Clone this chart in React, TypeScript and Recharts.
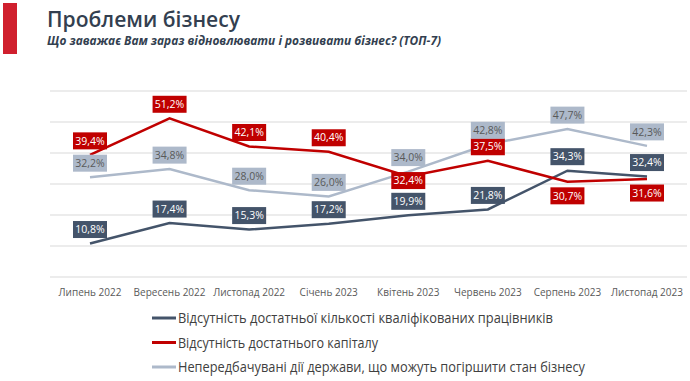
import React from 'react';
import { LineChart, Line, XAxis, YAxis, CartesianGrid, Legend } from 'recharts';

const months = [
  'Липень 2022',
  'Вересень 2022',
  'Листопад 2022',
  'Січень 2023',
  'Квітень 2023',
  'Червень 2023',
  'Серпень 2023',
  'Листопад 2023',
];
const workers = [10.8, 17.4, 15.3, 17.2, 19.9, 21.8, 34.3, 32.4];
const capital = [39.4, 51.2, 42.1, 40.4, 32.4, 37.5, 30.7, 31.6];
const stateActs = [32.2, 34.8, 28.0, 26.0, 34.0, 42.8, 47.7, 42.3];
const yTicks = [0, 10, 20, 30, 40, 50, 60];

const names = {
  workers: 'Відсутність достатньої кількості кваліфікованих працівників',
  capital: 'Відсутність достатнього капіталу',
  stateActs: 'Непередбачувані дії держави, що можуть погіршити стан бізнесу',
};

const data = months.map((m, i) => ({
  month: m,
  workers: workers[i],
  capital: capital[i],
  stateActs: stateActs[i],
}));

const FONT = '"Open Sans", "Noto Sans", sans-serif';

// label boxes sit above the point unless moved here
const labelShift: Record<string, Record<number, number>> = {
  workers: {},
  capital: { 4: 4, 6: 14, 7: 14 },
  stateActs: {},
};

const fmt = (v: number) => v.toFixed(1).replace('.', ',') + '%';

function BoxLabel(props: any) {
  const { x, y, value, index, boxFill, textFill, shift } = props;
  if (x == null || y == null) return null;
  const cy = y + (shift[index] ?? -14);
  return (
    <g>
      <rect x={x - 17} y={cy - 8.5} width={34} height={17} fill={boxFill} />
      <text
        x={x}
        y={cy}
        dy="0.35em"
        textAnchor="middle"
        fontSize={10.5}
        fontFamily={FONT}
        fill={textFill}
      >
        {fmt(value)}
      </text>
    </g>
  );
}

const legendRows = [
  { key: 'workers', color: '#44546A', width: 375 },
  { key: 'capital', color: '#C00000', width: 200 },
  { key: 'stateActs', color: '#ADB9CA', width: 407 },
];

function LegendBox() {
  return (
    <svg width={530} height={75}>
      {legendRows.map((r, i) => (
        <g key={r.key} transform={`translate(0, ${12 + i * 24.5})`}>
          <line x1={2} x2={26} y1={0} y2={0} stroke={r.color} strokeWidth={3} />
          <text
            x={28}
            y={0}
            dy="0.35em"
            fontSize={15}
            fontFamily={FONT}
            fill="#404040"
            textLength={r.width}
            lengthAdjust="spacingAndGlyphs"
          >
            {names[r.key as keyof typeof names]}
          </text>
        </g>
      ))}
    </svg>
  );
}

export default function App() {
  return (
    <div style={{ position: 'absolute', left: 0, top: 0, width: 690, height: 381, background: '#fff' }}>
      <svg width={690} height={60} style={{ position: 'absolute', left: 0, top: 0 }}>
        <rect x={3} y={3} width={14} height={51} fill="#D0202E" />
        <text
          x={47}
          y={27}
          fontSize={21}
          fontWeight={600}
          fontFamily={FONT}
          fill="#333F50"
          textLength={193}
          lengthAdjust="spacingAndGlyphs"
        >
          Проблеми бізнесу
        </text>
        <text
          x={47}
          y={45}
          fontSize={12.5}
          fontWeight="bold"
          fontStyle="italic"
          fontFamily={FONT}
          fill="#333F50"
          textLength={394}
          lengthAdjust="spacingAndGlyphs"
        >
          Що заважає Вам зараз відновлювати і розвивати бізнес? (ТОП-7)
        </text>
      </svg>
      <LineChart
        width={690}
        height={381}
        data={data}
        margin={{ top: 91, right: 3, bottom: 74, left: 50 }}
        style={{ position: 'absolute', left: 0, top: 0 }}
      >
        <CartesianGrid vertical={false} stroke="#D9D9D9" />
        <XAxis
          dataKey="month"
          axisLine={false}
          tickLine={false}
          height={30}
          tickMargin={6}
          interval={0}
          padding={{ left: 40, right: 40 }}
          tick={{ fontSize: 10, fill: '#595959', fontFamily: FONT }}
        />
        <YAxis hide domain={[0, 60]} ticks={yTicks} />
        <Legend
          layout="horizontal"
          verticalAlign="middle"
          align="center"
          content={() => <LegendBox />}
          wrapperStyle={{ top: 306, left: 150, width: 530, height: 75 }}
        />
        <Line dataKey="workers" stroke="#44546A" strokeWidth={2.5} dot={false} isAnimationActive={false} />
        <Line dataKey="capital" stroke="#C00000" strokeWidth={2.5} dot={false} isAnimationActive={false} />
        <Line dataKey="stateActs" stroke="#ADB9CA" strokeWidth={2.5} dot={false} isAnimationActive={false} />
        <Line
          dataKey="workers"
          stroke="none"
          dot={false}
          legendType="none"
          isAnimationActive={false}
          label={(p: any) => <BoxLabel {...p} boxFill="#44546A" textFill="#FFFFFF" shift={labelShift.workers} />}
        />
        <Line
          dataKey="capital"
          stroke="none"
          dot={false}
          legendType="none"
          isAnimationActive={false}
          label={(p: any) => <BoxLabel {...p} boxFill="#C00000" textFill="#FFFFFF" shift={labelShift.capital} />}
        />
        <Line
          dataKey="stateActs"
          stroke="none"
          dot={false}
          legendType="none"
          isAnimationActive={false}
          label={(p: any) => <BoxLabel {...p} boxFill="#ADB9CA" textFill="#595959" shift={labelShift.stateActs} />}
        />
      </LineChart>
    </div>
  );
}
